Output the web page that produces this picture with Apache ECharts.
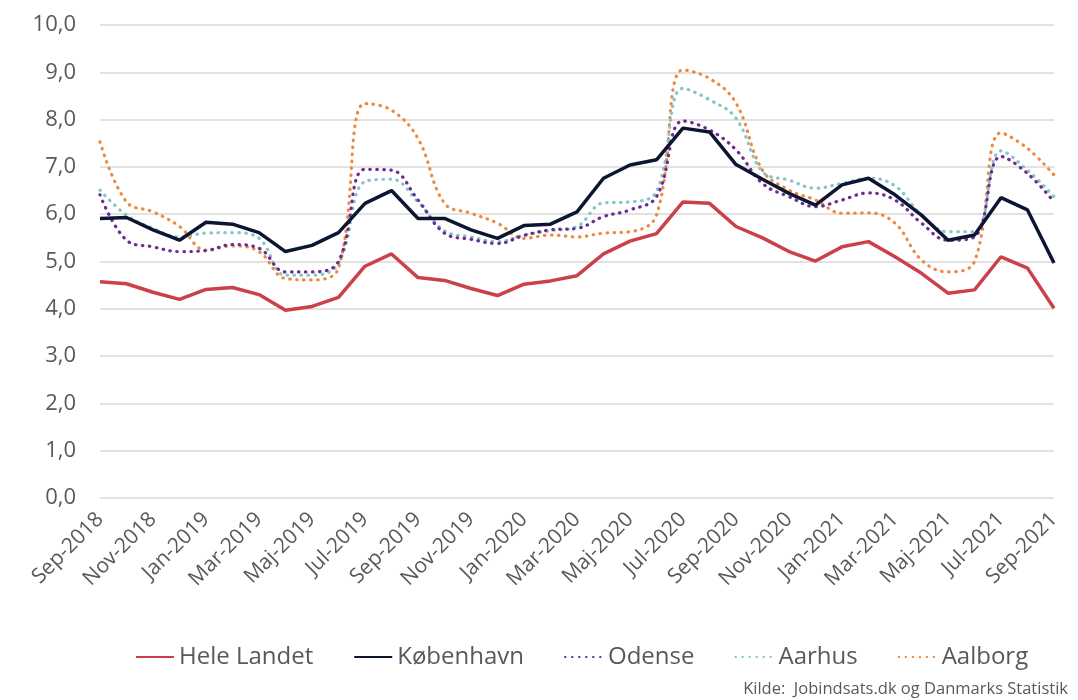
<!DOCTYPE html>
<html>
<head>
<meta charset="utf-8">
<script src="https://cdn.jsdelivr.net/npm/echarts@6/dist/echarts.min.js"></script>
<style>
  body { margin: 0; background: #fff; }
  #main { width: 1078px; height: 700px; }
</style>
</head>
<body>
<div id="main"></div>
<script>
// måneder sep-2018 .. sep-2021
var months = [
  'Sep-2018', 'Okt-2018', 'Nov-2018', 'Dec-2018', 'Jan-2019', 'Feb-2019', 'Mar-2019', 'Apr-2019', 'Maj-2019',
  'Jun-2019', 'Jul-2019', 'Aug-2019', 'Sep-2019', 'Okt-2019', 'Nov-2019', 'Dec-2019', 'Jan-2020', 'Feb-2020',
  'Mar-2020', 'Apr-2020', 'Maj-2020', 'Jun-2020', 'Jul-2020', 'Aug-2020', 'Sep-2020', 'Okt-2020', 'Nov-2020',
  'Dec-2020', 'Jan-2021', 'Feb-2021', 'Mar-2021', 'Apr-2021', 'Maj-2021', 'Jun-2021', 'Jul-2021', 'Aug-2021',
  'Sep-2021'
];

var heleLandet = [4.57, 4.53, 4.35, 4.2, 4.41, 4.45, 4.3, 3.97, 4.05, 4.24, 4.9, 5.16, 4.66, 4.6, 4.43, 4.28,
  4.52, 4.59, 4.7, 5.16, 5.43, 5.59, 6.26, 6.23, 5.74, 5.5, 5.21, 5.01, 5.31, 5.42, 5.1, 4.75, 4.33, 4.4,
  5.1, 4.86, 4.01];
var koebenhavn = [5.91, 5.93, 5.67, 5.45, 5.83, 5.79, 5.61, 5.21, 5.34, 5.61, 6.23, 6.5, 5.91, 5.91, 5.67, 5.49,
  5.76, 5.79, 6.05, 6.76, 7.04, 7.15, 7.82, 7.74, 7.05, 6.74, 6.44, 6.19, 6.62, 6.76, 6.41, 5.98, 5.45, 5.56,
  6.35, 6.09, 4.97];
var odense = [6.41, 5.45, 5.31, 5.21, 5.23, 5.36, 5.28, 4.78, 4.78, 5.0, 6.95, 6.93, 6.3, 5.6, 5.47, 5.38,
  5.55, 5.67, 5.7, 5.95, 6.09, 6.37, 7.97, 7.78, 7.36, 6.65, 6.37, 6.16, 6.3, 6.45, 6.3, 5.81, 5.45, 5.52,
  7.22, 6.86, 6.26];
var aarhus = [6.51, 5.98, 5.7, 5.52, 5.6, 5.61, 5.49, 4.71, 4.71, 4.96, 6.69, 6.74, 6.26, 5.65, 5.52, 5.42,
  5.56, 5.65, 5.74, 6.24, 6.26, 6.48, 8.66, 8.42, 8.03, 6.9, 6.72, 6.55, 6.65, 6.76, 6.6, 5.98, 5.63, 5.63,
  7.34, 6.93, 6.37];
var aalborg = [7.53, 6.26, 6.05, 5.74, 5.24, 5.33, 5.21, 4.64, 4.61, 4.86, 8.34, 8.2, 7.6, 6.23, 6.02, 5.81,
  5.49, 5.56, 5.52, 5.6, 5.63, 5.98, 9.05, 8.87, 8.35, 6.93, 6.51, 6.3, 6.02, 6.03, 5.81, 5.03, 4.78, 5.0,
  7.72, 7.39, 6.83];

var fontName = '"Open Sans", sans-serif';
var grey = '#595959';

function solid(name, data, color) {
  return {
    name: name, type: 'line', data: data, showSymbol: false, symbol: 'none',
    lineStyle: { color: color, width: 3.5 }, itemStyle: { color: color }
  };
}
function dotted(name, data, color) {
  return {
    name: name, type: 'line', data: data, showSymbol: false, symbol: 'none', smooth: 0.4,
    lineStyle: { color: color, width: 3.2, type: [0.5, 6.5], cap: 'round' }, itemStyle: { color: color }
  };
}

var chart = echarts.init(document.getElementById('main'));

var option = {
  animation: false,
  textStyle: { fontFamily: fontName },
  grid: { left: 100, right: 24, top: 25, bottom: 202 },
  legend: {
    top: 640, left: 130, itemWidth: 38, itemHeight: 12, itemGap: 40,
    itemStyle: { opacity: 0 },
    textStyle: { fontSize: 24, color: grey, fontFamily: fontName },
    data: ['Hele Landet', 'København', 'Odense', 'Aarhus', 'Aalborg']
  },
  graphic: [{
    type: 'text', right: 10, bottom: 2,
    style: { text: 'Kilde:  Jobindsats.dk og Danmarks Statistik', fill: grey, fontSize: 16.5, fontFamily: fontName }
  }],
  xAxis: {
    type: 'category', data: months, boundaryGap: false,
    axisLine: { show: false }, axisTick: { show: false },
    axisLabel: { interval: 1, rotate: 45, fontSize: 21, color: grey, margin: 18 }
  },
  yAxis: {
    type: 'value', min: 0, max: 10, interval: 1,
    axisLabel: {
      fontSize: 22, color: grey, margin: 24,
      formatter: function (v) { return v.toFixed(1).replace('.', ','); }
    },
    splitLine: { lineStyle: { color: '#d9d9d9', width: 1.5 } }
  },
  series: [
    dotted('Aalborg', aalborg, '#ed8a3f'),
    dotted('Aarhus', aarhus, '#86c6c9'),
    dotted('Odense', odense, '#6b2c91'),
    solid('Hele Landet', heleLandet, '#cc4049'),
    solid('København', koebenhavn, '#0c1633')
  ]
};

chart.setOption(option);
</script>
</body>
</html>
